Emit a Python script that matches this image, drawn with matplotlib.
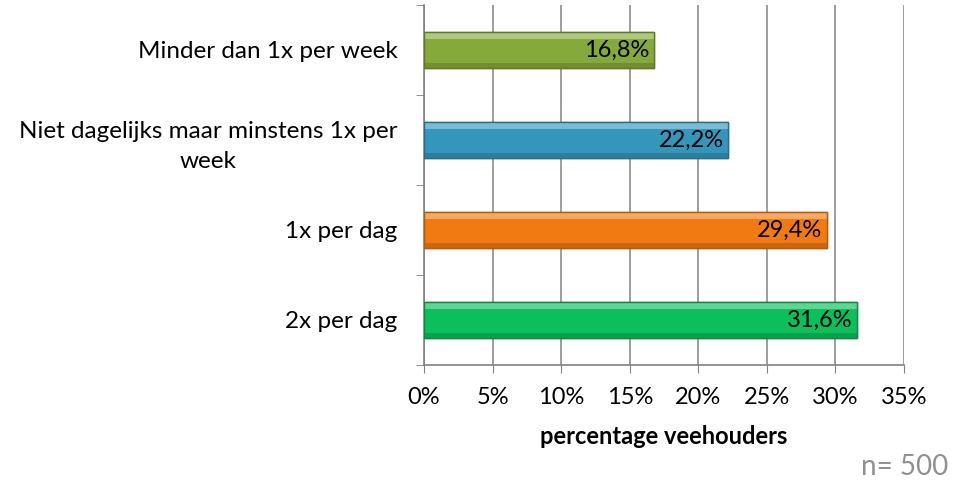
import matplotlib
matplotlib.use("Agg")
import matplotlib.pyplot as plt
import numpy as np
from matplotlib.colors import to_rgb

categories = ["2x per dag", "1x per dag", "Niet dagelijks maar minstens 1x per\nweek", "Minder dan 1x per week"]
values = [31.6, 29.4, 22.2, 16.8]
labels = ["31,6%", "29,4%", "22,2%", "16,8%"]
colors = ["#0DBE5C", "#F27A12", "#3596BC", "#85A93A"]
edges = ["#0A8A44", "#B85A08", "#256F8C", "#5E7A25"]
xticks = [0, 5, 10, 15, 20, 25, 30, 35]
xticklabels = ["0%", "5%", "10%", "15%", "20%", "25%", "30%", "35%"]

plt.rcParams['font.family'] = ['Lato', 'DejaVu Sans']

fig = plt.figure(figsize=(9.54, 4.84), dpi=100)
ax = fig.add_axes([424/954, 1-365/484, 480/954, 360/484])

y = np.arange(len(categories))
h = 0.4
ax.barh(y, values, height=h, color=colors, edgecolor=edges, linewidth=1.0, zorder=3)

# bevel-like vertical gradient inside each bar
for yi, v, c in zip(y, values, colors):
    base = np.array(to_rgb(c))
    n = 40
    t = np.linspace(0, 1, n)  # 0 = bottom, 1 = top
    grad = np.tile(base, (n, 1))
    grad[t > 0.82] = np.clip(base + (1 - base) * 0.35, 0, 1)
    grad[t < 0.15] = base * 0.85
    img = grad[:, None, :]
    ax.imshow(img, extent=(0, v, yi - h/2, yi + h/2), origin='lower', aspect='auto', zorder=3.5, interpolation='nearest')
ax.barh(y, values, height=h, color='none', edgecolor=edges, linewidth=1.0, zorder=4)

for yi, v, lab in zip(y, values, labels):
    ax.text(v - 0.35, yi, lab, ha='right', va='center', fontsize=17, color='black', zorder=5)

ax.set_xlim(0, 35)
ax.set_ylim(-0.5, len(categories) - 0.5)
ax.set_xticks(xticks)
ax.set_xticklabels(xticklabels, fontsize=17)
ax.set_yticks(y)
ax.set_yticklabels(categories, fontsize=17.5, multialignment='center', linespacing=1.5)
ax.set_yticks(np.arange(-0.5, len(categories)), minor=True)
ax.tick_params(axis='y', which='major', length=0, pad=19)
ax.tick_params(axis='y', which='minor', length=6, color='#808080', direction='out')
ax.tick_params(axis='x', length=6, color='#808080', direction='out', pad=10)
ax.grid(axis='x', color='#8C8C8C', linewidth=1.2, zorder=0)
for s in ['top', 'right']:
    ax.spines[s].set_visible(False)
for s in ['left', 'bottom']:
    ax.spines[s].set_color('#808080')
    ax.spines[s].set_linewidth(1.2)

ax.set_xlabel("percentage veehouders", fontsize=17, fontweight='bold', labelpad=12)
fig.text(948/954, 1-467/484, "n= 500", ha='right', va='center', fontsize=20, color='#8E9092')

fig.savefig("out.png", dpi=100)
